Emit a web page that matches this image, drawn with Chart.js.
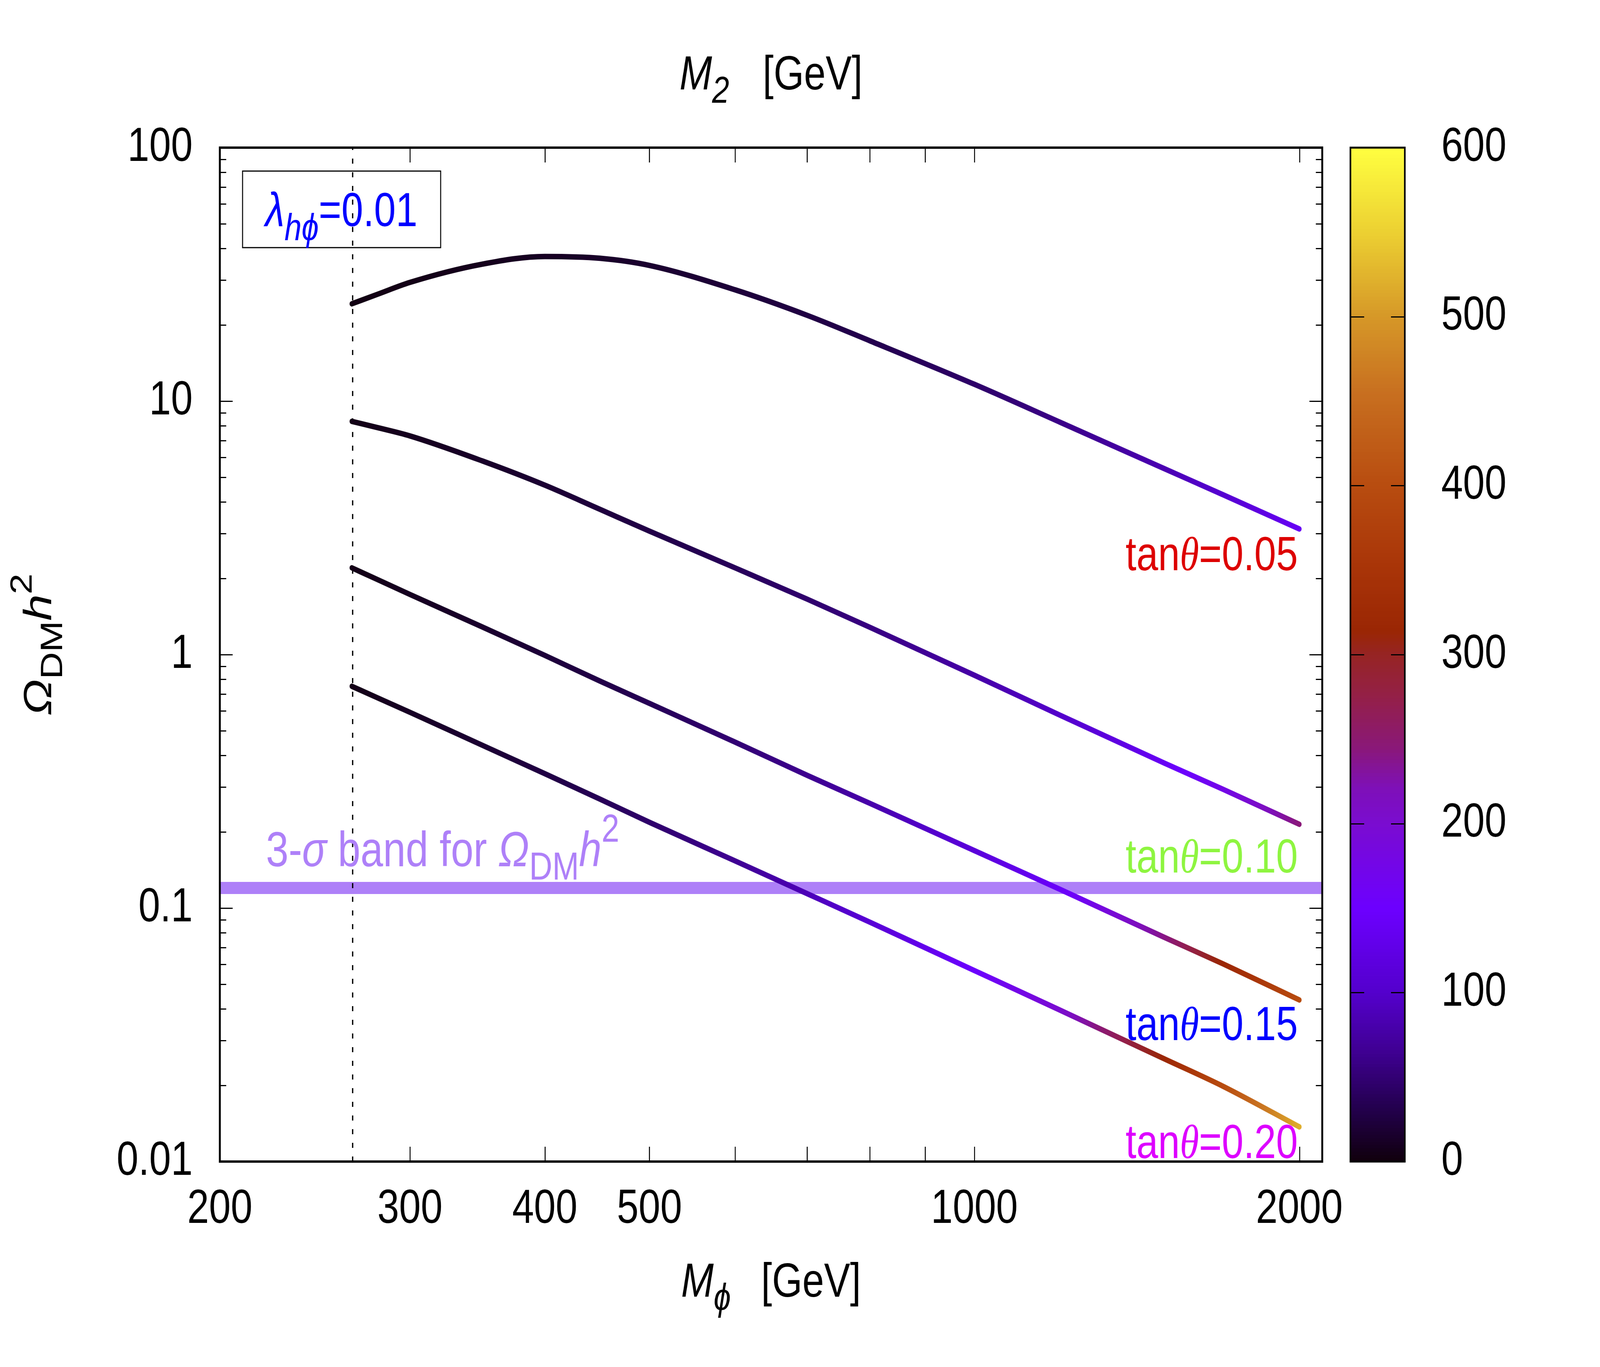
<!DOCTYPE html>
<html>
<head>
<meta charset="utf-8">
<script src="https://cdn.jsdelivr.net/npm/chart.js@4.4.1/dist/chart.umd.min.js"></script>
<style>
  html, body { margin: 0; padding: 0; background: #fff; overflow: hidden; }
  #wrap { position: relative; overflow: hidden; }
  #relic { position: absolute; left: 0; top: 0; transform-origin: 0 0; }
</style>
</head>
<body>
<div id="wrap"><canvas id="relic" width="5000" height="3500"></canvas></div>
<script>
// M_phi grid (GeV) and relic abundance for each mixing angle
const massPhi = [265, 280, 300, 350, 400, 450, 500, 600, 700, 800, 1000, 1200, 1500, 1700, 2000];
const omegaTan005 = [24.2, 26.4, 29.4, 34.7, 37.2, 36.6, 34.3, 27.5, 21.8, 17.3, 11.65, 8.26, 5.41, 4.27, 3.13];
const omegaTan010 = [8.32, 7.86, 7.29, 5.81, 4.66, 3.74, 3.07, 2.20, 1.655, 1.282, 0.829, 0.577, 0.373, 0.294, 0.214];
const omegaTan015 = [2.20, 1.976, 1.727, 1.286, 0.993, 0.786, 0.642, 0.452, 0.334, 0.259, 0.1685, 0.1186, 0.0766, 0.0602, 0.0434];
const omegaTan020 = [0.750, 0.675, 0.592, 0.439, 0.339, 0.269, 0.218, 0.1536, 0.114, 0.088, 0.0567, 0.0396, 0.0254, 0.0198, 0.0137];

// colour-bar quantity along each curve
const colorTan005 = [3, 4, 5, 8, 11, 14, 17, 22, 27, 32, 45, 60, 85, 105, 140];
const colorTan010 = [5, 7, 9, 14, 19, 24, 29, 38, 47, 57, 78, 100, 140, 175, 245];
const colorTan015 = [5, 7, 10, 16, 22, 29, 36, 50, 64, 80, 115, 145, 240, 320, 400];
const colorTan020 = [5, 8, 12, 19, 27, 36, 46, 66, 88, 110, 150, 200, 320, 400, 520];

const seriesNames = ['tanθ=0.05', 'tanθ=0.10', 'tanθ=0.15', 'tanθ=0.20'];
const seriesLabelValues = ['0.05', '0.10', '0.15', '0.20'];

const xTickValues = [200, 300, 400, 500, 600, 700, 800, 900, 1000, 2000];
const xTickLabels = ['200', '300', '400', '500', '', '', '', '', '1000', '2000'];
const yTickValues = [0.01, 0.1, 1, 10, 100];
const yTickLabels = ['0.01', '0.1', '1', '10', '100'];
const cbTickValues = [0, 100, 200, 300, 400, 500, 600];

const relicBand = 0.12;
const thresholdMass = 265.5;
const lambdaValue = '0.01';

// palette of the colour bar: [value, r, g, b]
const paletteStops = [
  [0, 16, 0, 12], [33, 36, 0, 80], [64, 62, 0, 144], [100, 84, 0, 204],
  [150, 108, 0, 255], [200, 122, 12, 208], [221, 126, 16, 184], [245, 138, 24, 120],
  [275, 148, 32, 72], [300, 150, 36, 36], [314, 154, 38, 4], [350, 168, 52, 8],
  [400, 184, 76, 16], [456, 200, 112, 32], [500, 214, 152, 40], [550, 236, 208, 50],
  [600, 255, 255, 64]
];

// the canvas is drawn at 5000x3500 and stretched to fill the viewport
const PAGE_W = 5000, PAGE_H = 3500;
const fitX = window.innerWidth / PAGE_W;
const fitY = window.innerHeight / PAGE_H;
const wrap = document.getElementById('wrap');
wrap.style.width = window.innerWidth + 'px';
wrap.style.height = window.innerHeight + 'px';
document.getElementById('relic').style.transform = 'scale(' + fitX + ',' + fitY + ')';

function paletteColor(v) {
  v = Math.max(0, Math.min(600, v));
  for (let i = 0; i < paletteStops.length - 1; i++) {
    const a = paletteStops[i], b = paletteStops[i + 1];
    if (v <= b[0]) {
      const t = (v - a[0]) / (b[0] - a[0]);
      const c = [1, 2, 3].map(k => Math.round(a[k] + (b[k] - a[k]) * t));
      return 'rgb(' + c.join(',') + ')';
    }
  }
  return 'rgb(255,255,64)';
}

function curveGradient(chart, colors) {
  const area = chart.chartArea;
  if (!area) return '#000';
  const xs = chart.scales.x;
  const g = chart.ctx.createLinearGradient(area.left, 0, area.right, 0);
  const w = area.right - area.left;
  for (let i = 0; i < massPhi.length - 1; i++) {
    for (let k = 0; k < 8; k++) {
      const t = k / 8;
      const m = massPhi[i] * Math.pow(massPhi[i + 1] / massPhi[i], t);
      const z = colors[i] + (colors[i + 1] - colors[i]) * t;
      const p = (xs.getPixelForValue(m) - area.left) / w;
      g.addColorStop(Math.max(0, Math.min(1, p)), paletteColor(z));
    }
  }
  const last = massPhi.length - 1;
  const pe = (xs.getPixelForValue(massPhi[last]) - area.left) / w;
  g.addColorStop(Math.min(1, pe), paletteColor(colors[last]));
  return g;
}

const SANS = '"Liberation Sans", Arial, sans-serif';
const SERIF = '"Liberation Serif", "Times New Roman", serif';
const FS = 122;   // main font size
const SUB = 96;   // sub/superscript size

function drawRuns(ctx, runs, x, y, align) {
  const items = runs.map(r => {
    const size = r.size || FS;
    const font = (r.italic ? 'italic ' : '') + size + 'px ' + (r.serif ? SERIF : SANS);
    ctx.font = font;
    return { r, font, w: r.gap != null ? r.gap : ctx.measureText(r.t).width };
  });
  const total = items.reduce((a, s) => a + s.w, 0);
  let cx = align === 'right' ? x - total : align === 'center' ? x - total / 2 : x;
  ctx.textAlign = 'left';
  ctx.textBaseline = 'alphabetic';
  for (const s of items) {
    if (s.r.t) {
      ctx.font = s.font;
      ctx.fillText(s.r.t, cx, y + (s.r.dy || 0));
    }
    cx += s.w;
  }
}

const frameAndColorbar = {
  id: 'frameAndColorbar',
  afterDraw(chart) {
    const { ctx, chartArea: a, scales } = chart;
    const xs = scales.x, ys = scales.y, cb = scales.cb;
    ctx.save();
    ctx.strokeStyle = '#000';
    ctx.lineCap = 'butt';

    // inward ticks on all four sides
    ctx.lineWidth = 3;
    ctx.beginPath();
    xTickValues.forEach(v => {
      if (v <= 200) return;
      const px = Math.round(xs.getPixelForValue(v)) + 0.5;
      ctx.moveTo(px, a.bottom); ctx.lineTo(px, a.bottom - 38);
      ctx.moveTo(px, a.top); ctx.lineTo(px, a.top + 38);
    });
    for (let d = -2; d < 2; d++) {
      for (let k = 1; k <= 9; k++) {
        const v = k * Math.pow(10, d);
        if (k === 1 && d === -2) continue;
        const len = k === 1 ? 40 : 20;
        const py = Math.round(ys.getPixelForValue(v)) + 0.5;
        ctx.moveTo(a.left, py); ctx.lineTo(a.left + len, py);
        ctx.moveTo(a.right, py); ctx.lineTo(a.right - len, py);
      }
    }
    ctx.stroke();

    // plot border
    ctx.lineWidth = 6;
    ctx.strokeRect(a.left, a.top, a.right - a.left, a.bottom - a.top);

    // colour bar
    const cbL = a.right + 88, cbR = a.right + 258;
    for (let v = 0; v < 600; v += 2) {
      const y0 = cb.getPixelForValue(v), y1 = cb.getPixelForValue(v + 2);
      ctx.fillStyle = paletteColor(v + 1);
      ctx.fillRect(cbL, y1, cbR - cbL, y0 - y1 + 0.8);
    }
    ctx.lineWidth = 3;
    ctx.beginPath();
    cbTickValues.forEach(v => {
      if (v === 0 || v === 600) return;
      const py = Math.round(cb.getPixelForValue(v)) + 0.5;
      ctx.moveTo(cbL, py); ctx.lineTo(cbL + 43, py);
      ctx.moveTo(cbR, py); ctx.lineTo(cbR - 43, py);
    });
    ctx.stroke();
    ctx.lineWidth = 5;
    ctx.strokeRect(cbL, cb.getPixelForValue(600), cbR - cbL, cb.getPixelForValue(0) - cb.getPixelForValue(600));
    ctx.restore();
  }
};

const annotations = {
  id: 'annotations',
  afterDraw(chart) {
    const { ctx, chartArea: a, scales } = chart;
    const xs = scales.x, ys = scales.y;
    const cx = (a.left + a.right) / 2;
    ctx.save();

    // axis titles
    ctx.fillStyle = '#000';
    drawRuns(ctx, [
      { t: 'M', italic: true }, { t: '2', italic: true, size: SUB, dy: 34 },
      { gap: 105 }, { t: '[GeV]' }
    ], cx, 229, 'center');
    drawRuns(ctx, [
      { t: 'M', italic: true }, { t: 'ϕ', italic: true, size: SUB, dy: 34 },
      { gap: 95 }, { t: '[GeV]' }
    ], cx, 3320, 'center');
    ctx.save();
    ctx.translate(160, 1650);
    ctx.rotate(-Math.PI / 2);
    drawRuns(ctx, [
      { t: 'Ω', italic: true }, { t: 'DM', size: SUB, dy: 34 },
      { t: 'h', italic: true }, { t: '2', size: SUB, dy: -61 }
    ], 0, 0, 'center');
    ctx.restore();

    // coupling box
    ctx.lineWidth = 3;
    ctx.strokeStyle = '#000';
    ctx.strokeRect(a.left + 71, a.top + 60, 619, 196);
    ctx.fillStyle = '#0000ff';
    drawRuns(ctx, [
      { t: 'λ', italic: true }, { t: 'hϕ', italic: true, size: SUB, dy: 36 },
      { t: '=' + lambdaValue }
    ], a.left + 142, a.top + 201, 'left');

    // relic band label
    ctx.fillStyle = '#ae80f8';
    drawRuns(ctx, [
      { t: '3-', size: 127 }, { t: 'σ', italic: true, size: 127 }, { t: ' band for ', size: 127 },
      { t: 'Ω', italic: true, size: 127 }, { t: 'DM', size: 100, dy: 34 },
      { t: 'h', italic: true, size: 127 }, { t: '2', size: 100, dy: -63 }
    ], a.left + 144, ys.getPixelForValue(relicBand) - 56, 'left');

    // curve labels
    const labelColors = ['#dd0000', '#8ef540', '#0000ff', '#dd00ff'];
    const labelAnchors = [2.15, 0.138, 0.0301, 0.01033];
    const xr = xs.getPixelForValue(2000) - 5;
    seriesLabelValues.forEach((val, i) => {
      ctx.fillStyle = labelColors[i];
      drawRuns(ctx, [
        { t: 'tan' }, { t: 'θ', italic: true, serif: true }, { t: '=' + val }
      ], xr, ys.getPixelForValue(labelAnchors[i]), 'right');
    });
    ctx.restore();
  }
};

const curveData = [omegaTan005, omegaTan010, omegaTan015, omegaTan020];
const curveColors = [colorTan005, colorTan010, colorTan015, colorTan020];

const datasets = curveData.map((vals, i) => ({
  label: seriesNames[i],
  data: massPhi.map((m, j) => ({ x: m, y: vals[j] })),
  borderColor: ctx => curveGradient(ctx.chart, curveColors[i]),
  borderWidth: 14,
  borderCapStyle: 'round',
  borderJoinStyle: 'round',
  cubicInterpolationMode: 'monotone',
  pointRadius: 0,
  fill: false,
  order: 1
}));

datasets.push({
  label: 'threshold',
  data: [{ x: thresholdMass, y: 0.01 }, { x: thresholdMass, y: 100 }],
  borderColor: '#000',
  borderWidth: 4,
  borderDash: [13, 22],
  pointRadius: 0,
  order: 2
});

datasets.push({
  label: '3-sigma band',
  data: [{ x: 200, y: relicBand }, { x: 2100, y: relicBand }],
  borderColor: '#ae80f8',
  borderWidth: 31,
  borderCapStyle: 'butt',
  pointRadius: 0,
  order: 3
});

const tickFont = { family: SANS, size: FS };
const noOverflowPadding = s => { s.paddingTop = 0; s.paddingBottom = 0; s.paddingLeft = 0; s.paddingRight = 0; };

new Chart(document.getElementById('relic'), {
  type: 'line',
  data: { datasets },
  options: {
    responsive: false,
    devicePixelRatio: 1,
    animation: false,
    events: [],
    layout: { padding: { top: 378, left: 0, right: 0, bottom: 0 } },
    plugins: { legend: { display: false }, tooltip: { enabled: false } },
    scales: {
      x: {
        type: 'logarithmic',
        position: 'bottom',
        min: 200,
        max: 2100,
        afterBuildTicks: s => { s.ticks = xTickValues.map(v => ({ value: v })); },
        afterFit: s => { s.height = 526; noOverflowPadding(s); },
        grid: { display: false, drawTicks: false },
        border: { display: false },
        ticks: {
          autoSkip: false, maxRotation: 0, padding: 50, color: '#000', font: tickFont,
          callback: v => xTickLabels[xTickValues.indexOf(v)]
        }
      },
      y: {
        type: 'logarithmic',
        position: 'left',
        min: 0.01,
        max: 100,
        afterBuildTicks: s => { s.ticks = yTickValues.map(v => ({ value: v })); },
        afterFit: s => { s.width = 687; noOverflowPadding(s); },
        grid: { display: false, drawTicks: false },
        border: { display: false },
        ticks: {
          autoSkip: false, padding: 85, color: '#000', font: tickFont,
          callback: v => yTickLabels[yTickValues.indexOf(v)]
        }
      },
      cb: {
        type: 'linear',
        position: 'right',
        min: 0,
        max: 600,
        afterBuildTicks: s => { s.ticks = cbTickValues.map(v => ({ value: v })); },
        afterFit: s => { s.width = 868; noOverflowPadding(s); },
        grid: { display: false, drawTicks: false },
        border: { display: false },
        ticks: { autoSkip: false, padding: 372, color: '#000', font: tickFont, callback: v => String(v) }
      }
    }
  },
  plugins: [frameAndColorbar, annotations]
});
</script>
</body>
</html>
